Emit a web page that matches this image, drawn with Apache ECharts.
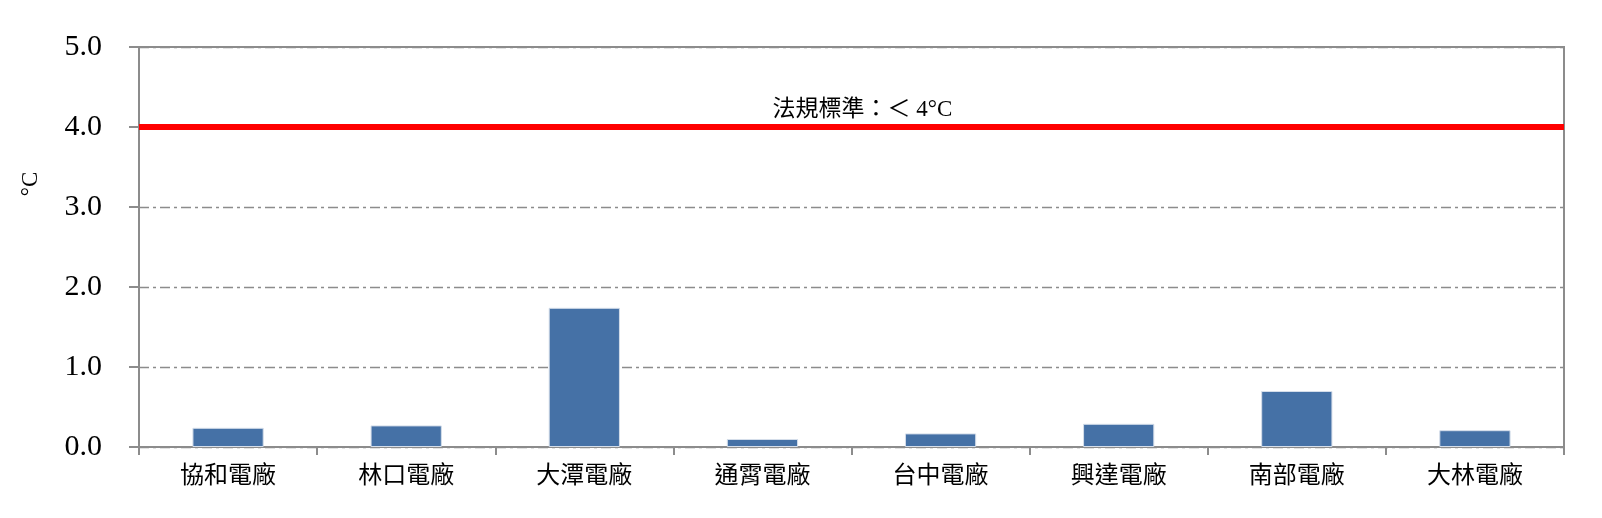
<!DOCTYPE html>
<html>
<head>
<meta charset="utf-8">
<script src="https://cdn.jsdelivr.net/npm/echarts@6/dist/echarts.min.js"></script>
<style>
html, body { margin: 0; padding: 0; background: #fff; }
#main { width: 1602px; height: 518px; }
</style>
</head>
<body>
<div id="main"></div>
<script>
var plants = ['協和電廠', '林口電廠', '大潭電廠', '通霄電廠', '台中電廠', '興達電廠', '南部電廠', '大林電廠'];
var tempRise = [0.24, 0.27, 1.74, 0.10, 0.17, 0.29, 0.70, 0.21];
var limitValue = 4.0;
var limitText = '法規標準：＜ 4°C';
var unitText = '°C';

var serif = "'Liberation Serif', 'Times New Roman', 'Noto Sans CJK TC', serif";

var myChart = echarts.init(document.getElementById('main'));
myChart.setOption({
	animation: false,
	grid: {
		left: 139, right: 38, top: 47, bottom: 71,
		show: true, borderColor: '#8c8c8c', borderWidth: 2, backgroundColor: 'transparent'
	},
	graphic: [{
		type: 'text',
		x: 31, y: 184,
		rotation: Math.PI / 2,
		style: {
			text: unitText,
			fill: '#000',
			font: "23px " + serif,
			textAlign: 'center',
			textVerticalAlign: 'middle'
		}
	}],
	xAxis: {
		type: 'category',
		data: plants,
		axisLine: { lineStyle: { color: '#8c8c8c', width: 2 } },
		axisTick: { show: true, length: 8, lineStyle: { color: '#8c8c8c', width: 2 } },
		axisLabel: { color: '#000', fontSize: 24, margin: 18, fontFamily: serif }
	},
	yAxis: {
		type: 'value',
		min: 0, max: 5, interval: 1,
		axisLine: { show: true, lineStyle: { color: '#8c8c8c', width: 2 } },
		axisTick: { show: true, length: 10, lineStyle: { color: '#8c8c8c', width: 2 } },
		axisLabel: {
			color: '#000', fontSize: 30, margin: 37, fontFamily: serif,
			formatter: function (v) { return v.toFixed(1); }
		},
		splitLine: { lineStyle: { color: '#8c8c8c', width: 1.3, type: [10, 4, 3, 4] } }
	},
	series: [{
		type: 'bar',
		data: tempRise,
		barWidth: '40%',
		itemStyle: { color: '#4571a6', borderColor: '#d5deea', borderWidth: 1 },
		markLine: {
			symbol: 'none',
			silent: true,
			data: [{ yAxis: limitValue }],
			lineStyle: { color: '#ff0000', width: 6, type: 'solid' },
			label: {
				show: true,
				position: 'middle',
				formatter: limitText,
				color: '#000',
				fontSize: 23,
				fontFamily: serif,
				distance: 6,
				offset: [11, 0]
			}
		}
	}]
});
</script>
</body>
</html>
